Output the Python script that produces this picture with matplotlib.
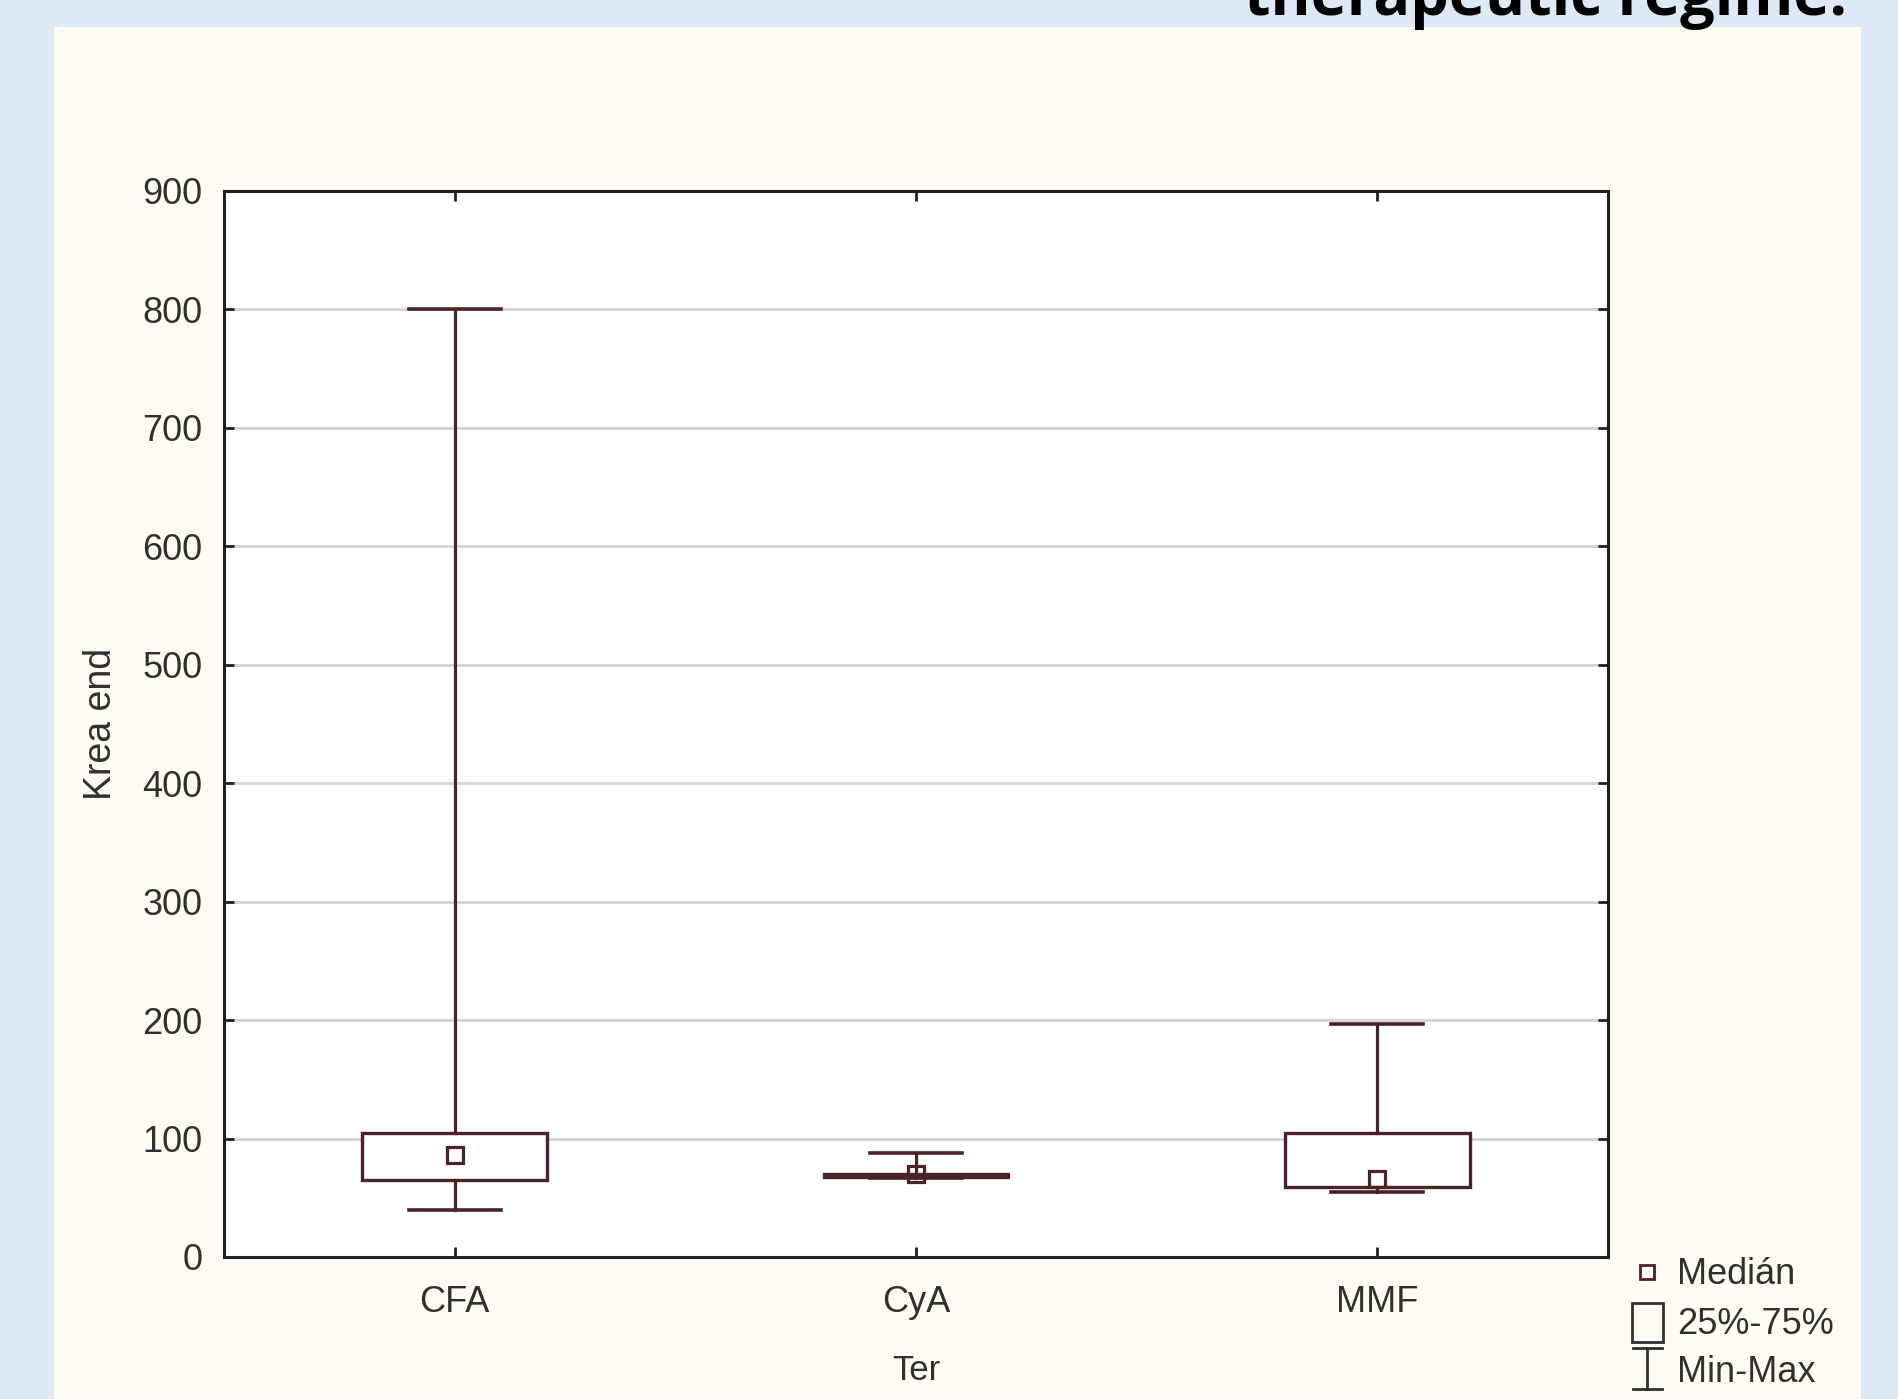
import matplotlib.pyplot as plt
from matplotlib.patches import Rectangle
from matplotlib.lines import Line2D

# values (Krea end by therapy)
groups = ["CFA", "CyA", "MMF"]
medians = [86, 70, 66]
q1 = [65, 67.5, 59.5]
q3 = [105, 70, 105]
mins = [40, 67, 55]
maxs = [800, 88, 197]
yticks = [0, 100, 200, 300, 400, 500, 600, 700, 800, 900]

box_col = "#4a2228"
font = "Liberation Sans"

fig = plt.figure(figsize=(18.99, 13.99), dpi=100)
fig.patch.set_facecolor("#dde9f6")
fig.add_artist(Rectangle((54 / 1899, 0), (1861 - 54) / 1899, 1 - 27 / 1399,
                         transform=fig.transFigure, facecolor="#fefbf1",
                         edgecolor="none", zorder=0))

# cut-off title at the top of the slide
fig.text(1847 / 1899, 1 - 15 / 1399, "therapeutic regime.", ha="right",
         va="baseline", fontsize=44, fontweight="bold", family="Open Sans",
         color="black")

ax = fig.add_axes([224 / 1899, 1 - 1257 / 1399, (1608 - 224) / 1899,
                   (1257 - 191) / 1399])
ax.set_facecolor("white")

stats = []
for i in range(len(groups)):
    stats.append(dict(med=medians[i], q1=q1[i], q3=q3[i], whislo=mins[i],
                      whishi=maxs[i], fliers=[], label=groups[i]))

pos = list(range(len(groups)))
ax.bxp(stats, positions=pos, widths=0.4, capwidths=0.2, patch_artist=True,
       boxprops=dict(facecolor="white", edgecolor=box_col, linewidth=2.4),
       whiskerprops=dict(color=box_col, linewidth=2.3),
       capprops=dict(color=box_col, linewidth=2.6),
       medianprops=dict(linewidth=0), zorder=3)
ax.plot(pos, medians, "s", ms=11, mfc="none", mec=box_col, mew=2.3, zorder=4)

ax.set_xlim(-0.5, 2.5)
ax.set_ylim(0, 900)
ax.set_yticks(yticks)
ax.set_xticks(pos)
ax.set_xticklabels(groups)
ax.grid(axis="y", color="#d4d4d4", linewidth=2)
ax.set_axisbelow(True)
for s in ax.spines.values():
    s.set_linewidth(2.2)
    s.set_color("#202020")
ax.tick_params(direction="in", length=7, width=2, top=True, right=True,
               labelsize=26, colors="#202020")
ax.tick_params(axis="y", pad=15.5)
ax.tick_params(axis="x", pad=20)
for lab in ax.get_xticklabels() + ax.get_yticklabels():
    lab.set_family(font)
    lab.set_color("#303030")

ax.set_xlabel("Ter", fontsize=25, family=font, color="#303030", labelpad=25)
ax.set_ylabel("Krea end", fontsize=27, family=font, color="#303030",
              labelpad=17)

# legend drawn by hand
def fx(px):
    return px / 1899

def fy(py):
    return 1 - py / 1399

fig.add_artist(Line2D([fx(1647)], [fy(1272)], marker="s", ms=10, mfc="none",
                      mec=box_col, mew=2, transform=fig.transFigure))
fig.add_artist(Rectangle((fx(1632), fy(1342)), 31 / 1899, 39 / 1399,
                         transform=fig.transFigure, facecolor="none",
                         edgecolor="#303030", linewidth=2))
fig.add_artist(Line2D([fx(1647), fx(1647)], [fy(1348), fy(1389)],
                      color="#303030", lw=2, transform=fig.transFigure))
for yy in (1348, 1389):
    fig.add_artist(Line2D([fx(1633), fx(1662)], [fy(yy), fy(yy)],
                          color="#303030", lw=2, transform=fig.transFigure))
leg_txt = ["Medián", "25%-75%", "Min-Max"]
leg_y = [1274, 1324, 1372]
for t, yy in zip(leg_txt, leg_y):
    fig.text(fx(1677), fy(yy), t, ha="left", va="center", fontsize=26,
             family=font, color="#303030")

fig.savefig("out.png", dpi=100, facecolor=fig.get_facecolor())
